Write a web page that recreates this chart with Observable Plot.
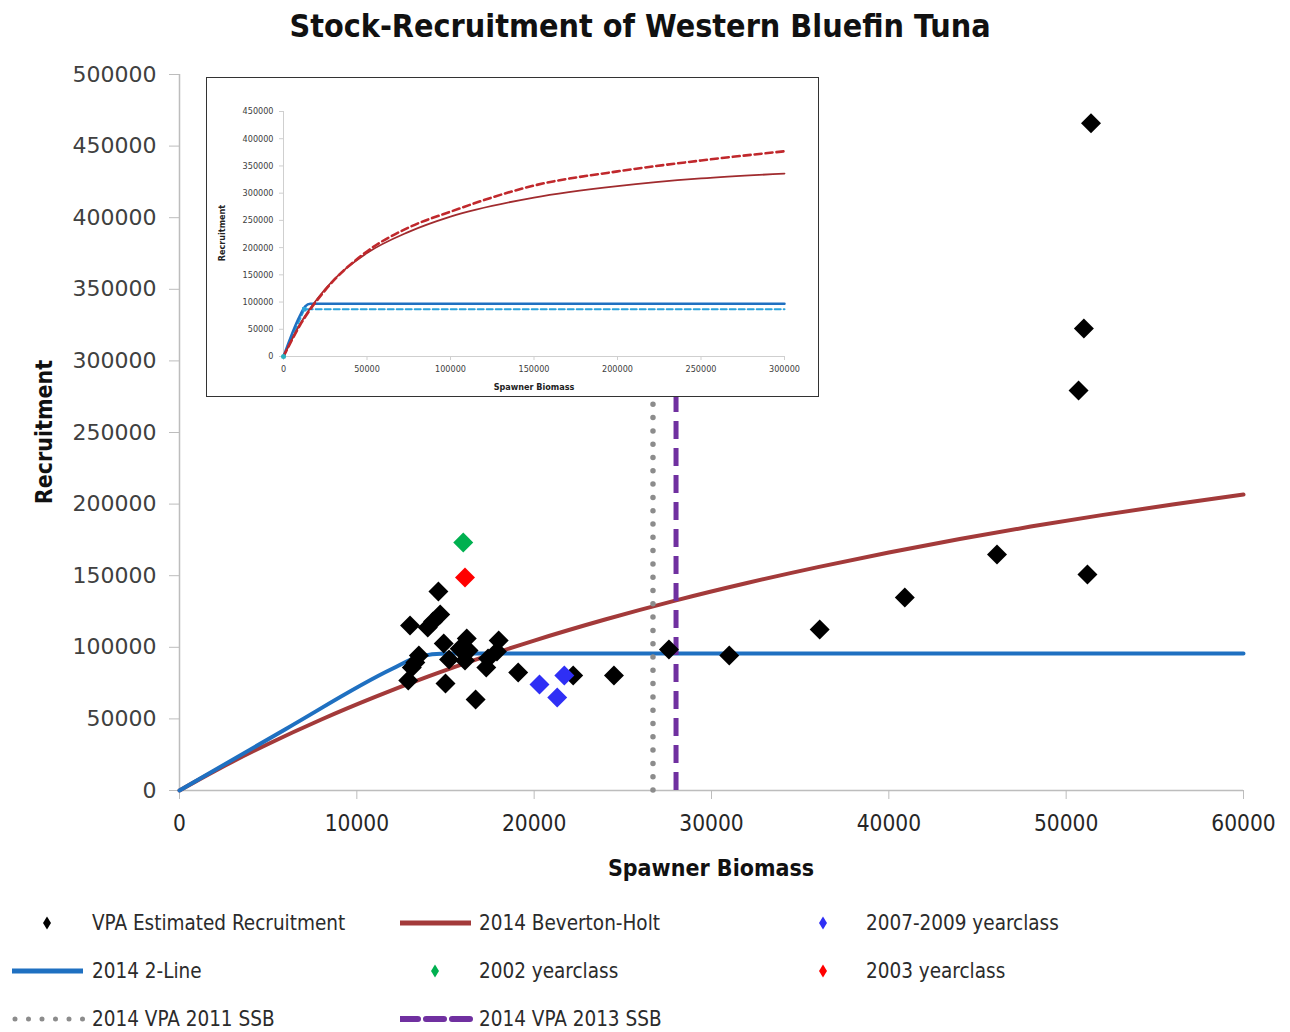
<!DOCTYPE html>
<html>
<head>
<meta charset="utf-8">
<script src="https://cdn.jsdelivr.net/npm/d3@7"></script>
<script src="https://cdn.jsdelivr.net/npm/@observablehq/plot@0.6"></script>
<style>
  body { margin: 0; background: #fff; }
  #wrap { position: relative; width: 1290px; height: 1032px; overflow: hidden; background: #fff;
          font-family: "Liberation Sans Narrow", "DejaVu Sans Condensed", "Open Sans", sans-serif; }
  .abs { position: absolute; white-space: nowrap; }
  .ctr { transform: translate(-50%, -50%); }
  #title { left: 640px; top: 26px; font-size: 32px; font-weight: bold; color: #111; }
  #xlab { left: 711px; top: 868px; font-size: 23px; font-weight: bold; color: #111; }
  #ylab { left: 44px; top: 432px; font-size: 23px; font-weight: bold; color: #111; transform: translate(-50%, -50%) rotate(-90deg); }
  #inset { left: 206px; top: 77px; width: 611px; height: 318px; background: #fff; border: 1.5px solid #333; box-sizing: content-box; }
  #inset svg { position: absolute; left: 0; top: 0; }
  .ilab { font-size: 9px; font-weight: bold; color: #222; }
  .leg { font-size: 20.5px; color: #2b2b2b; }
</style>
</head>
<body>
<div id="wrap"></div>
<script>
// ---------------- data ----------------
// VPA estimated recruitment (spawner biomass, recruitment)
const vpaSSB = [51400, 51000, 50700, 46100, 51200, 40900, 36100, 31000, 27600, 24500, 22200, 19100,
                13000, 14000, 14300, 14700, 14600, 14900, 16200, 16300, 16100, 15800, 18000, 17900,
                17400, 17300, 13500, 13300, 13100, 12900, 15200, 15000, 16700];
const vpaRec = [466000, 322600, 279300, 164800, 150800, 134800, 112400, 94300, 98500, 80300, 80300, 82400,
                115200, 113800, 118000, 122900, 139000, 102600, 106100, 97800, 90800, 99000, 104700, 97100,
                92200, 85900, 94300, 89400, 85900, 76800, 91500, 74700, 63500];
// highlighted year classes
const yc2002SSB = [16000], yc2002Rec = [173200];
const yc2003SSB = [16100], yc2003Rec = [148700];
const yc0709SSB = [20300, 21700, 21300], yc0709Rec = [74000, 80300, 64900];
// 2014 Beverton-Holt curve
const bhSSB = [0, 2000, 5000, 8000, 11000, 14000, 17000, 20000, 24000, 28000, 32000, 36000, 40000, 44000, 48000, 52000, 56000, 60000];
const bhRec = [0, 13700, 32500, 49600, 65200, 79500, 92600, 104700, 119400, 132800, 144900, 156000, 166200, 175600, 184300, 192300, 199700, 206700];
// 2014 2-line
const twoSSB = [0, 6000, 12000, 13500, 15000, 60000];
const twoRec = [0, 43000, 85000, 93500, 95700, 95700];
// SSB reference lines
const ssb2011 = 26700;
const ssb2013 = 28000;
// axis ticks
const yTicks = [0, 50000, 100000, 150000, 200000, 250000, 300000, 350000, 400000, 450000, 500000];
const xTicks = [0, 10000, 20000, 30000, 40000, 50000, 60000];

// inset (long-range view)
const inBhSSB = [0, 10000, 25000, 50000, 75000, 100000, 150000, 200000, 250000, 300000];
const inBhRec = [0, 60200, 124000, 190000, 229000, 257000, 292000, 313000, 327000, 336000];
const inBh2SSB = [0, 10000, 25000, 50000, 75000, 100000, 150000, 200000, 250000, 300000];
const inBh2Rec = [0, 58000, 122000, 193000, 237000, 266000, 314000, 340000, 360000, 377000];
const inTwoSSB = [0, 9500, 13000, 16000, 300000];
const inTwoRec = [0, 73000, 92000, 97000, 97000];
const inTwo2SSB = [0, 12500, 300000];
const inTwo2Rec = [0, 86800, 86800];
const inYTicks = [0, 50000, 100000, 150000, 200000, 250000, 300000, 350000, 400000, 450000];
const inXTicks = [0, 50000, 100000, 150000, 200000, 250000, 300000];

const zip = (xs, ys) => xs.map((x, i) => ({x, y: ys[i]}));
const NARROW = '"Liberation Sans Narrow", "DejaVu Sans Condensed", "Open Sans", sans-serif';

// ---------------- colours ----------------
const cBH = "#a33a3a", cTwo = "#1f70c1", cGray = "#8c8c8c", cPurple = "#7030a0";
const cGreen = "#00b050", cRed = "#ff0000", cBlue = "#2f2ff5";

const wrap = document.getElementById("wrap");

// ---------------- main chart ----------------
const main = Plot.plot({
  width: 1290, height: 900,
  marginLeft: 179, marginRight: 47, marginTop: 74, marginBottom: 110,
  x: {domain: [0, 60000]},
  y: {domain: [0, 500000]},
  style: {background: "transparent", overflow: "visible"},
  marks: [
    Plot.ruleX([0], {stroke: "#bdbdbd", strokeWidth: 1.5}),
    Plot.ruleY([0], {stroke: "#bdbdbd", strokeWidth: 1.5}),
    Plot.axisY({ticks: yTicks, tickSize: 10, tickPadding: 13, tickFormat: d => String(d), label: null,
                stroke: "#bdbdbd", fill: "#404040", fontSize: 22, fontFamily: "DejaVu Sans"}),
    Plot.axisX({ticks: xTicks, tickSize: 9, tickPadding: 16, tickFormat: d => String(d), label: null,
                stroke: "#bdbdbd", fill: "#262626", fontSize: 22.5, fontFamily: NARROW}),
    Plot.line(zip(bhSSB, bhRec), {x: "x", y: "y", stroke: cBH, strokeWidth: 4, curve: "monotone-x"}),
    Plot.line(zip(twoSSB, twoRec), {x: "x", y: "y", stroke: cTwo, strokeWidth: 4, curve: "monotone-x"}),
    Plot.ruleX([ssb2011], {y1: 0, y2: 490000, stroke: cGray, strokeWidth: 5.5, strokeDasharray: "0 13.3", strokeLinecap: "round"}),
    Plot.ruleX([ssb2013], {y1: 0, y2: 490000, stroke: cPurple, strokeWidth: 5, strokeDasharray: "18 9"}),
    Plot.dot(zip(vpaSSB, vpaRec), {x: "x", y: "y", symbol: "diamond2", r: 9, fill: "#000", stroke: "none"}),
    Plot.dot(zip(yc2002SSB, yc2002Rec), {x: "x", y: "y", symbol: "diamond2", r: 9, fill: cGreen, stroke: "none"}),
    Plot.dot(zip(yc2003SSB, yc2003Rec), {x: "x", y: "y", symbol: "diamond2", r: 9, fill: cRed, stroke: "none"}),
    Plot.dot(zip(yc0709SSB, yc0709Rec), {x: "x", y: "y", symbol: "diamond2", r: 9, fill: cBlue, stroke: "none"})
  ]
});
main.style.position = "absolute";
main.style.left = "0px";
main.style.top = "0px";
wrap.appendChild(main);

// ---------------- titles ----------------
function addText(id, cls, txt) {
  const d = document.createElement("div");
  if (id) d.id = id;
  d.className = cls;
  d.textContent = txt;
  wrap.appendChild(d);
  return d;
}
addText("title", "abs ctr", "Stock-Recruitment of Western Bluefin Tuna");
addText("xlab", "abs ctr", "Spawner Biomass");
addText("ylab", "abs", "Recruitment");

// ---------------- inset ----------------
const insetDiv = document.createElement("div");
insetDiv.id = "inset";
insetDiv.className = "abs";
wrap.appendChild(insetDiv);
const inset = Plot.plot({
  width: 611, height: 318,
  marginLeft: 76, marginRight: 34, marginTop: 33, marginBottom: 40,
  x: {domain: [0, 300000]},
  y: {domain: [0, 450000]},
  style: {background: "transparent", overflow: "visible"},
  marks: [
    Plot.ruleX([0], {stroke: "#cfcfcf", strokeWidth: 1}),
    Plot.ruleY([0], {stroke: "#cfcfcf", strokeWidth: 1}),
    Plot.axisY({ticks: inYTicks, tickSize: 4, tickPadding: 6, tickFormat: d => String(d), label: null,
                stroke: "#cfcfcf", fill: "#404040", fontSize: 9, fontFamily: NARROW}),
    Plot.axisX({ticks: inXTicks, tickSize: 4, tickPadding: 5, tickFormat: d => String(d), label: null,
                stroke: "#cfcfcf", fill: "#404040", fontSize: 9, fontFamily: NARROW}),
    Plot.line(zip(inTwo2SSB, inTwo2Rec), {x: "x", y: "y", stroke: "#2aa3dc", strokeWidth: 2, strokeDasharray: "6 3"}),
    Plot.line(zip(inTwoSSB, inTwoRec), {x: "x", y: "y", stroke: cTwo, strokeWidth: 2.5, curve: "monotone-x"}),
    Plot.line(zip(inBhSSB, inBhRec), {x: "x", y: "y", stroke: "#a02b2e", strokeWidth: 1.8, curve: "monotone-x"}),
    Plot.line(zip(inBh2SSB, inBh2Rec), {x: "x", y: "y", stroke: "#c0282c", strokeWidth: 2.6, strokeDasharray: "7 4", curve: "monotone-x"}),
    Plot.dot(zip([12500], [86800]), {x: "x", y: "y", symbol: "square", r: 2.5, fill: "#2aa3dc", stroke: "none"}),
    Plot.dot(zip([0], [0]), {x: "x", y: "y", r: 2.5, fill: "#2ab0c0", stroke: "none"})
  ]
});
insetDiv.appendChild(inset);
const il1 = document.createElement("div");
il1.className = "abs ctr ilab"; il1.textContent = "Spawner Biomass";
il1.style.left = "327px"; il1.style.top = "309px";
insetDiv.appendChild(il1);
const il2 = document.createElement("div");
il2.className = "abs ilab"; il2.textContent = "Recruitment";
il2.style.left = "15px"; il2.style.top = "155px";
il2.style.transform = "translate(-50%, -50%) rotate(-90deg)";
insetDiv.appendChild(il2);

// ---------------- legend ----------------
const legendItems = [
  {kind: "diamond", color: "#000", sx: 47, tx: 92, y: 923, label: "VPA Estimated Recruitment"},
  {kind: "line", color: cBH, sx: 400, tx: 479, y: 923, label: "2014 Beverton-Holt"},
  {kind: "diamond", color: cBlue, sx: 823, tx: 866, y: 923, label: "2007-2009 yearclass"},
  {kind: "line", color: cTwo, sx: 12, tx: 92, y: 971, label: "2014 2-Line"},
  {kind: "diamond", color: cGreen, sx: 435, tx: 479, y: 971, label: "2002 yearclass"},
  {kind: "diamond", color: cRed, sx: 823, tx: 866, y: 971, label: "2003 yearclass"},
  {kind: "dots", color: cGray, sx: 12, tx: 92, y: 1019, label: "2014 VPA 2011 SSB"},
  {kind: "dash", color: cPurple, sx: 400, tx: 479, y: 1019, label: "2014 VPA 2013 SSB"}
];
const ns = "http://www.w3.org/2000/svg";
legendItems.forEach(it => {
  const svg = document.createElementNS(ns, "svg");
  svg.setAttribute("width", 80); svg.setAttribute("height", 20);
  svg.style.position = "absolute";
  const sel = d3.select(svg);
  if (it.kind === "diamond") {
    svg.style.left = (it.sx - 10) + "px"; svg.style.top = (it.y - 10) + "px";
    sel.append("path").attr("d", "M10,3.5L14,10L10,16.5L6,10Z").attr("fill", it.color);
  } else {
    svg.style.left = it.sx + "px"; svg.style.top = (it.y - 10) + "px";
    const l = sel.append("line").attr("x1", 0).attr("x2", 71).attr("y1", 10).attr("y2", 10).attr("stroke", it.color);
    if (it.kind === "line") l.attr("stroke-width", 5);
    if (it.kind === "dots") l.attr("x1", 3).attr("x2", 71).attr("stroke-width", 5).attr("stroke-linecap", "round").attr("stroke-dasharray", "0 13.5");
    if (it.kind === "dash") l.attr("stroke-width", 6).attr("stroke-dasharray", "18 8").attr("stroke-linecap", "round");
  }
  wrap.appendChild(svg);
  const t = document.createElement("div");
  t.className = "abs leg";
  t.textContent = it.label;
  t.style.left = it.tx + "px";
  t.style.top = it.y + "px";
  t.style.transform = "translateY(-50%)";
  wrap.appendChild(t);
});
</script>
</body>
</html>
